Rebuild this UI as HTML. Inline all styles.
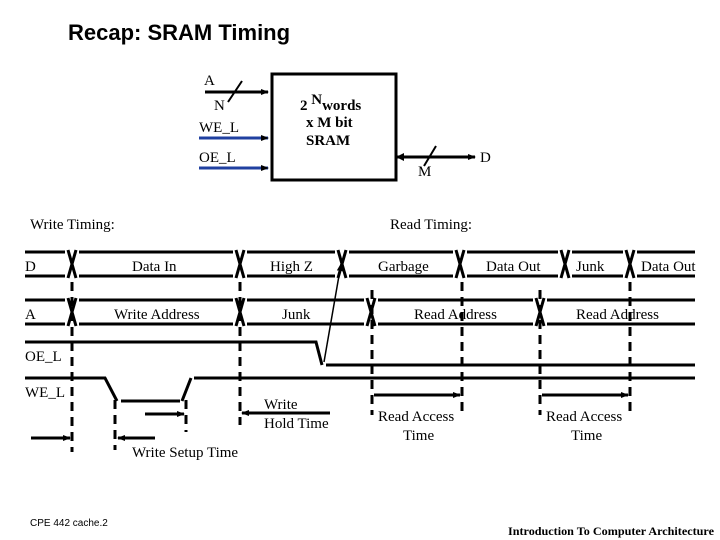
<!DOCTYPE html>
<html><head><style>
body{margin:0;background:#fff;}
svg{display:block}
.s{font-family:"Liberation Serif",serif;font-size:15px;}
.b{font-weight:bold}
</style></head><body>
<svg width="720" height="540" viewBox="0 0 720 540" xmlns="http://www.w3.org/2000/svg">
<defs>
<marker id="ar" markerWidth="8" markerHeight="8" refX="7" refY="4" orient="auto" markerUnits="userSpaceOnUse"><path d="M0,1 L8,4 L0,7z" fill="#000"/></marker>
</defs>
<text x="68" y="40" font-family="Liberation Sans,sans-serif" font-size="22" font-weight="bold">Recap: SRAM Timing</text>
<rect x="272" y="74" width="124" height="106" fill="none" stroke="#000" stroke-width="3"/>
<text class="s" x="204" y="85">A</text>
<line x1="205" y1="92" x2="268" y2="92" stroke="#000" stroke-width="3" marker-end="url(#ar)"/>
<line x1="228" y1="102" x2="242" y2="81" stroke="#000" stroke-width="2"/>
<text class="s" x="214" y="110">N</text>
<text class="s" x="199" y="132">WE_L</text>
<line x1="199" y1="138" x2="268" y2="138" stroke="#2040a0" stroke-width="3" marker-end="url(#ar)"/>
<text class="s" x="199" y="162">OE_L</text>
<line x1="199" y1="168" x2="268" y2="168" stroke="#2040a0" stroke-width="3" marker-end="url(#ar)"/>
<text class="s b" x="300" y="110">2 <tspan dy="-6">N</tspan><tspan dy="6">words</tspan></text>
<text class="s b" x="306" y="127">x  M bit</text>
<text class="s b" x="306" y="145">SRAM</text>
<line x1="400" y1="157" x2="475" y2="157" stroke="#000" stroke-width="3" marker-end="url(#ar)"/>
<line x1="404" y1="157" x2="396" y2="157" stroke="#000" stroke-width="3"/>
<path d="M404,153 L396,157 L404,161z"/>
<line x1="424" y1="166" x2="436" y2="146" stroke="#000" stroke-width="2"/>
<text class="s" x="418" y="176">M</text>
<text class="s" x="480" y="162">D</text>

<text class="s" x="30" y="229">Write Timing:</text>
<text class="s" x="390" y="229">Read Timing:</text>

<g stroke="#000" stroke-width="3" fill="none">
<path d="M25,252 H65 M79,252 H233 M247,252 H335 M349,252 H453 M467,252 H558 M572,252 H623 M637,252 H695"/>
<path d="M25,276 H65 M79,276 H233 M247,276 H335 M349,276 H453 M467,276 H558 M572,276 H623 M637,276 H695"/>
<path d="M68,250 L76,278 M76,250 L68,278 M236,250 L244,278 M244,250 L236,278 M338,250 L346,278 M346,250 L338,278 M456,250 L464,278 M464,250 L456,278 M561,250 L569,278 M569,250 L561,278 M626,250 L634,278 M634,250 L626,278"/>
<path d="M25,300 H65 M79,300 H233 M247,300 H364 M378,300 H533 M547,300 H695"/>
<path d="M25,324 H65 M79,324 H233 M247,324 H364 M378,324 H533 M547,324 H695"/>
<path d="M68,298 L76,326 M76,298 L68,326 M236,298 L244,326 M244,298 L236,326 M367,298 L375,326 M375,298 L367,326 M536,298 L544,326 M544,298 L536,326"/>
<path d="M25,342 H316 L322,365 M326,365 H695"/>
<path d="M25,378 H105 L117,401 M121,401 H180 M182,401 L191,378 M194,378 H695"/>
</g>
<g stroke="#000" stroke-width="3" stroke-dasharray="9,6" fill="none">
<line x1="72" y1="282" x2="72" y2="452"/>
<line x1="240" y1="282" x2="240" y2="425"/>
<line x1="115" y1="400" x2="115" y2="450"/>
<line x1="186" y1="400" x2="186" y2="432"/>
<line x1="372" y1="290" x2="372" y2="415"/>
<line x1="462" y1="282" x2="462" y2="415"/>
<line x1="540" y1="290" x2="540" y2="415"/>
<line x1="630" y1="282" x2="630" y2="415"/>
</g>
<g stroke="#000" stroke-width="3" fill="none">
<line x1="31" y1="438" x2="70" y2="438" marker-end="url(#ar)"/>
<line x1="155" y1="438" x2="118" y2="438" marker-end="url(#ar)"/>
<line x1="145" y1="414" x2="184" y2="414" marker-end="url(#ar)"/>
<line x1="330" y1="413" x2="242" y2="413" marker-end="url(#ar)"/>
<line x1="374" y1="395" x2="460" y2="395" marker-end="url(#ar)"/>
<line x1="542" y1="395" x2="628" y2="395" marker-end="url(#ar)"/>
</g>
<line x1="324" y1="362" x2="341" y2="264" stroke="#000" stroke-width="1.5" marker-end="url(#ar)"/>

<g class="s">
<text x="25" y="271">D</text>
<text x="132" y="271">Data In</text>
<text x="270" y="271">High Z</text>
<text x="378" y="271">Garbage</text>
<text x="486" y="271">Data Out</text>
<text x="576" y="271">Junk</text>
<text x="641" y="271">Data Out</text>
<text x="25" y="319">A</text>
<text x="114" y="319">Write Address</text>
<text x="282" y="319">Junk</text>
<text x="414" y="319">Read Address</text>
<text x="576" y="319">Read Address</text>
<text x="25" y="361">OE_L</text>
<text x="25" y="397">WE_L</text>
<text x="264" y="409">Write</text>
<text x="264" y="428">Hold Time</text>
<text x="132" y="457">Write Setup Time</text>
<text x="378" y="421">Read Access</text>
<text x="403" y="440">Time</text>
<text x="546" y="421">Read Access</text>
<text x="571" y="440">Time</text>
</g>
<text x="30" y="526" font-family="Liberation Sans,sans-serif" font-size="10">CPE 442  cache.2</text>
<text x="508" y="535" font-family="Liberation Serif,serif" font-size="12" font-weight="bold" textLength="206" lengthAdjust="spacingAndGlyphs">Introduction To Computer Architecture</text>
</svg>
</body></html>
